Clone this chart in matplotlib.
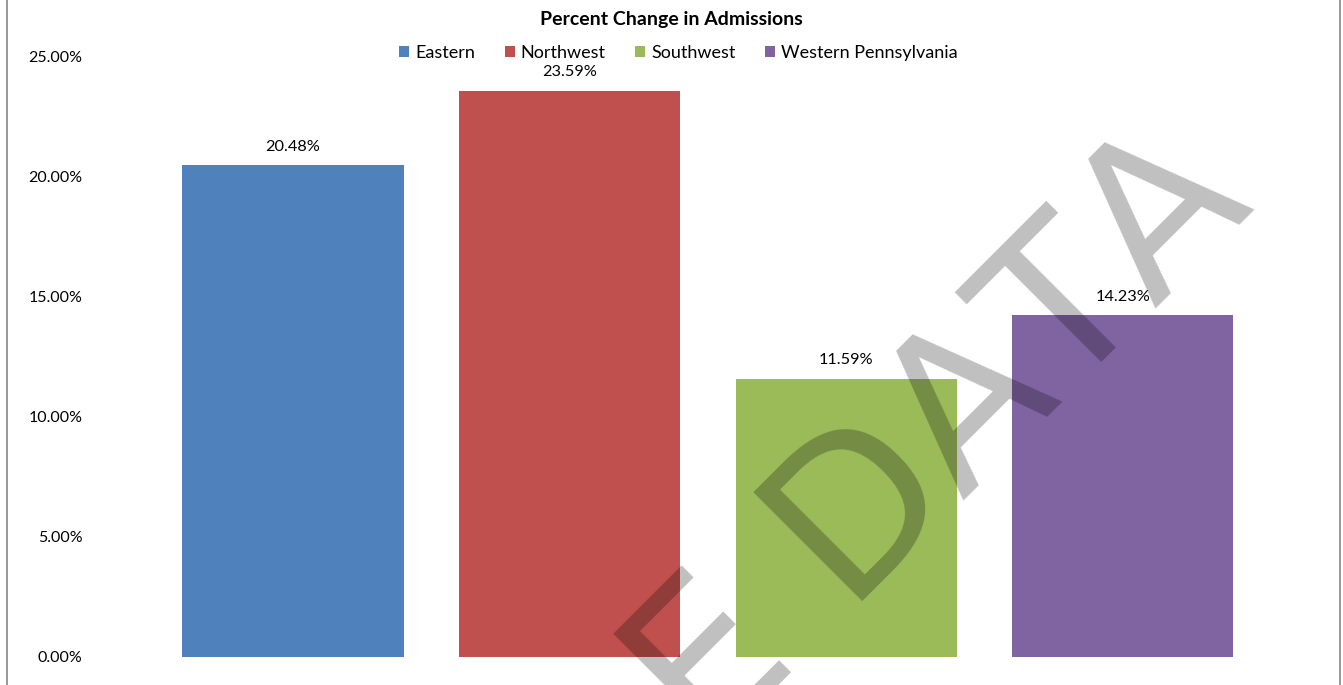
import matplotlib
matplotlib.use("Agg")
import matplotlib.pyplot as plt
from matplotlib.lines import Line2D
from matplotlib.patches import Patch

categories = ["Eastern", "Northwest", "Southwest", "Western Pennsylvania"]
values = [20.48, 23.59, 11.59, 14.23]
colors = ["#4F81BD", "#C0504D", "#9BBB59", "#8064A2"]
yticks = [0, 5, 10, 15, 20, 25]
title = "Percent Change in Admissions"
watermark = "SAMPLE DATA"

W, H, DPI = 1343, 685, 100
plt.rcParams['font.family'] = ['Lato', 'DejaVu Sans']
plt.rcParams['text.kerning_factor'] = 16

fig = plt.figure(figsize=(W / DPI, H / DPI), dpi=DPI)
ax = fig.add_axes([154.7 / W, 1 - 657 / H, (1261 - 154.7) / W, (657 - 57) / H])

x = list(range(len(categories)))
bars = ax.bar(x, values, width=0.8, color=colors, zorder=2)
for xi, v in zip(x, values):
    ax.annotate(f"{v:.2f}%", (xi, v), xytext=(0, 13.3), textcoords="offset points",
                ha="center", va="center", fontsize=11.7, color="black")

ax.set_xlim(-0.5, len(categories) - 0.5)
ax.set_ylim(0, 25)
ax.set_yticks(yticks)
ax.set_yticklabels([f"{t:.2f}%" for t in yticks], fontsize=11.5)
ax.tick_params(axis="y", length=0, pad=52)
ax.set_xticks([])
for s in ax.spines.values():
    s.set_visible(False)

fig.text(671 / W, 1 - 20 / H, title, ha="center", va="center", fontsize=14,
         fontweight="bold")

handles = [Patch(facecolor=c, edgecolor="none") for c in colors]
fig.legend(handles, categories, loc="center", bbox_to_anchor=(678.5 / W, 1 - 53 / H),
           ncol=4, frameon=False, fontsize=13, handlelength=0.55, handleheight=0.55,
           handletextpad=0.33, columnspacing=1.65, borderaxespad=0)

# chart frame
fig.add_artist(Line2D([7 / W, 7 / W], [0, 1], color="#868686", lw=1.2, transform=fig.transFigure))
fig.add_artist(Line2D([1340 / W, 1340 / W], [0, 1], color="#868686", lw=1.2, transform=fig.transFigure))

# watermark
fig.text(1256 / W, 1 - 207.6 / H, watermark, ha="right", va="baseline", rotation=45,
         rotation_mode="anchor", fontsize=151, color="black", alpha=0.25,
         family="DejaVu Sans", zorder=10)

fig.savefig("out.png", dpi=DPI)
